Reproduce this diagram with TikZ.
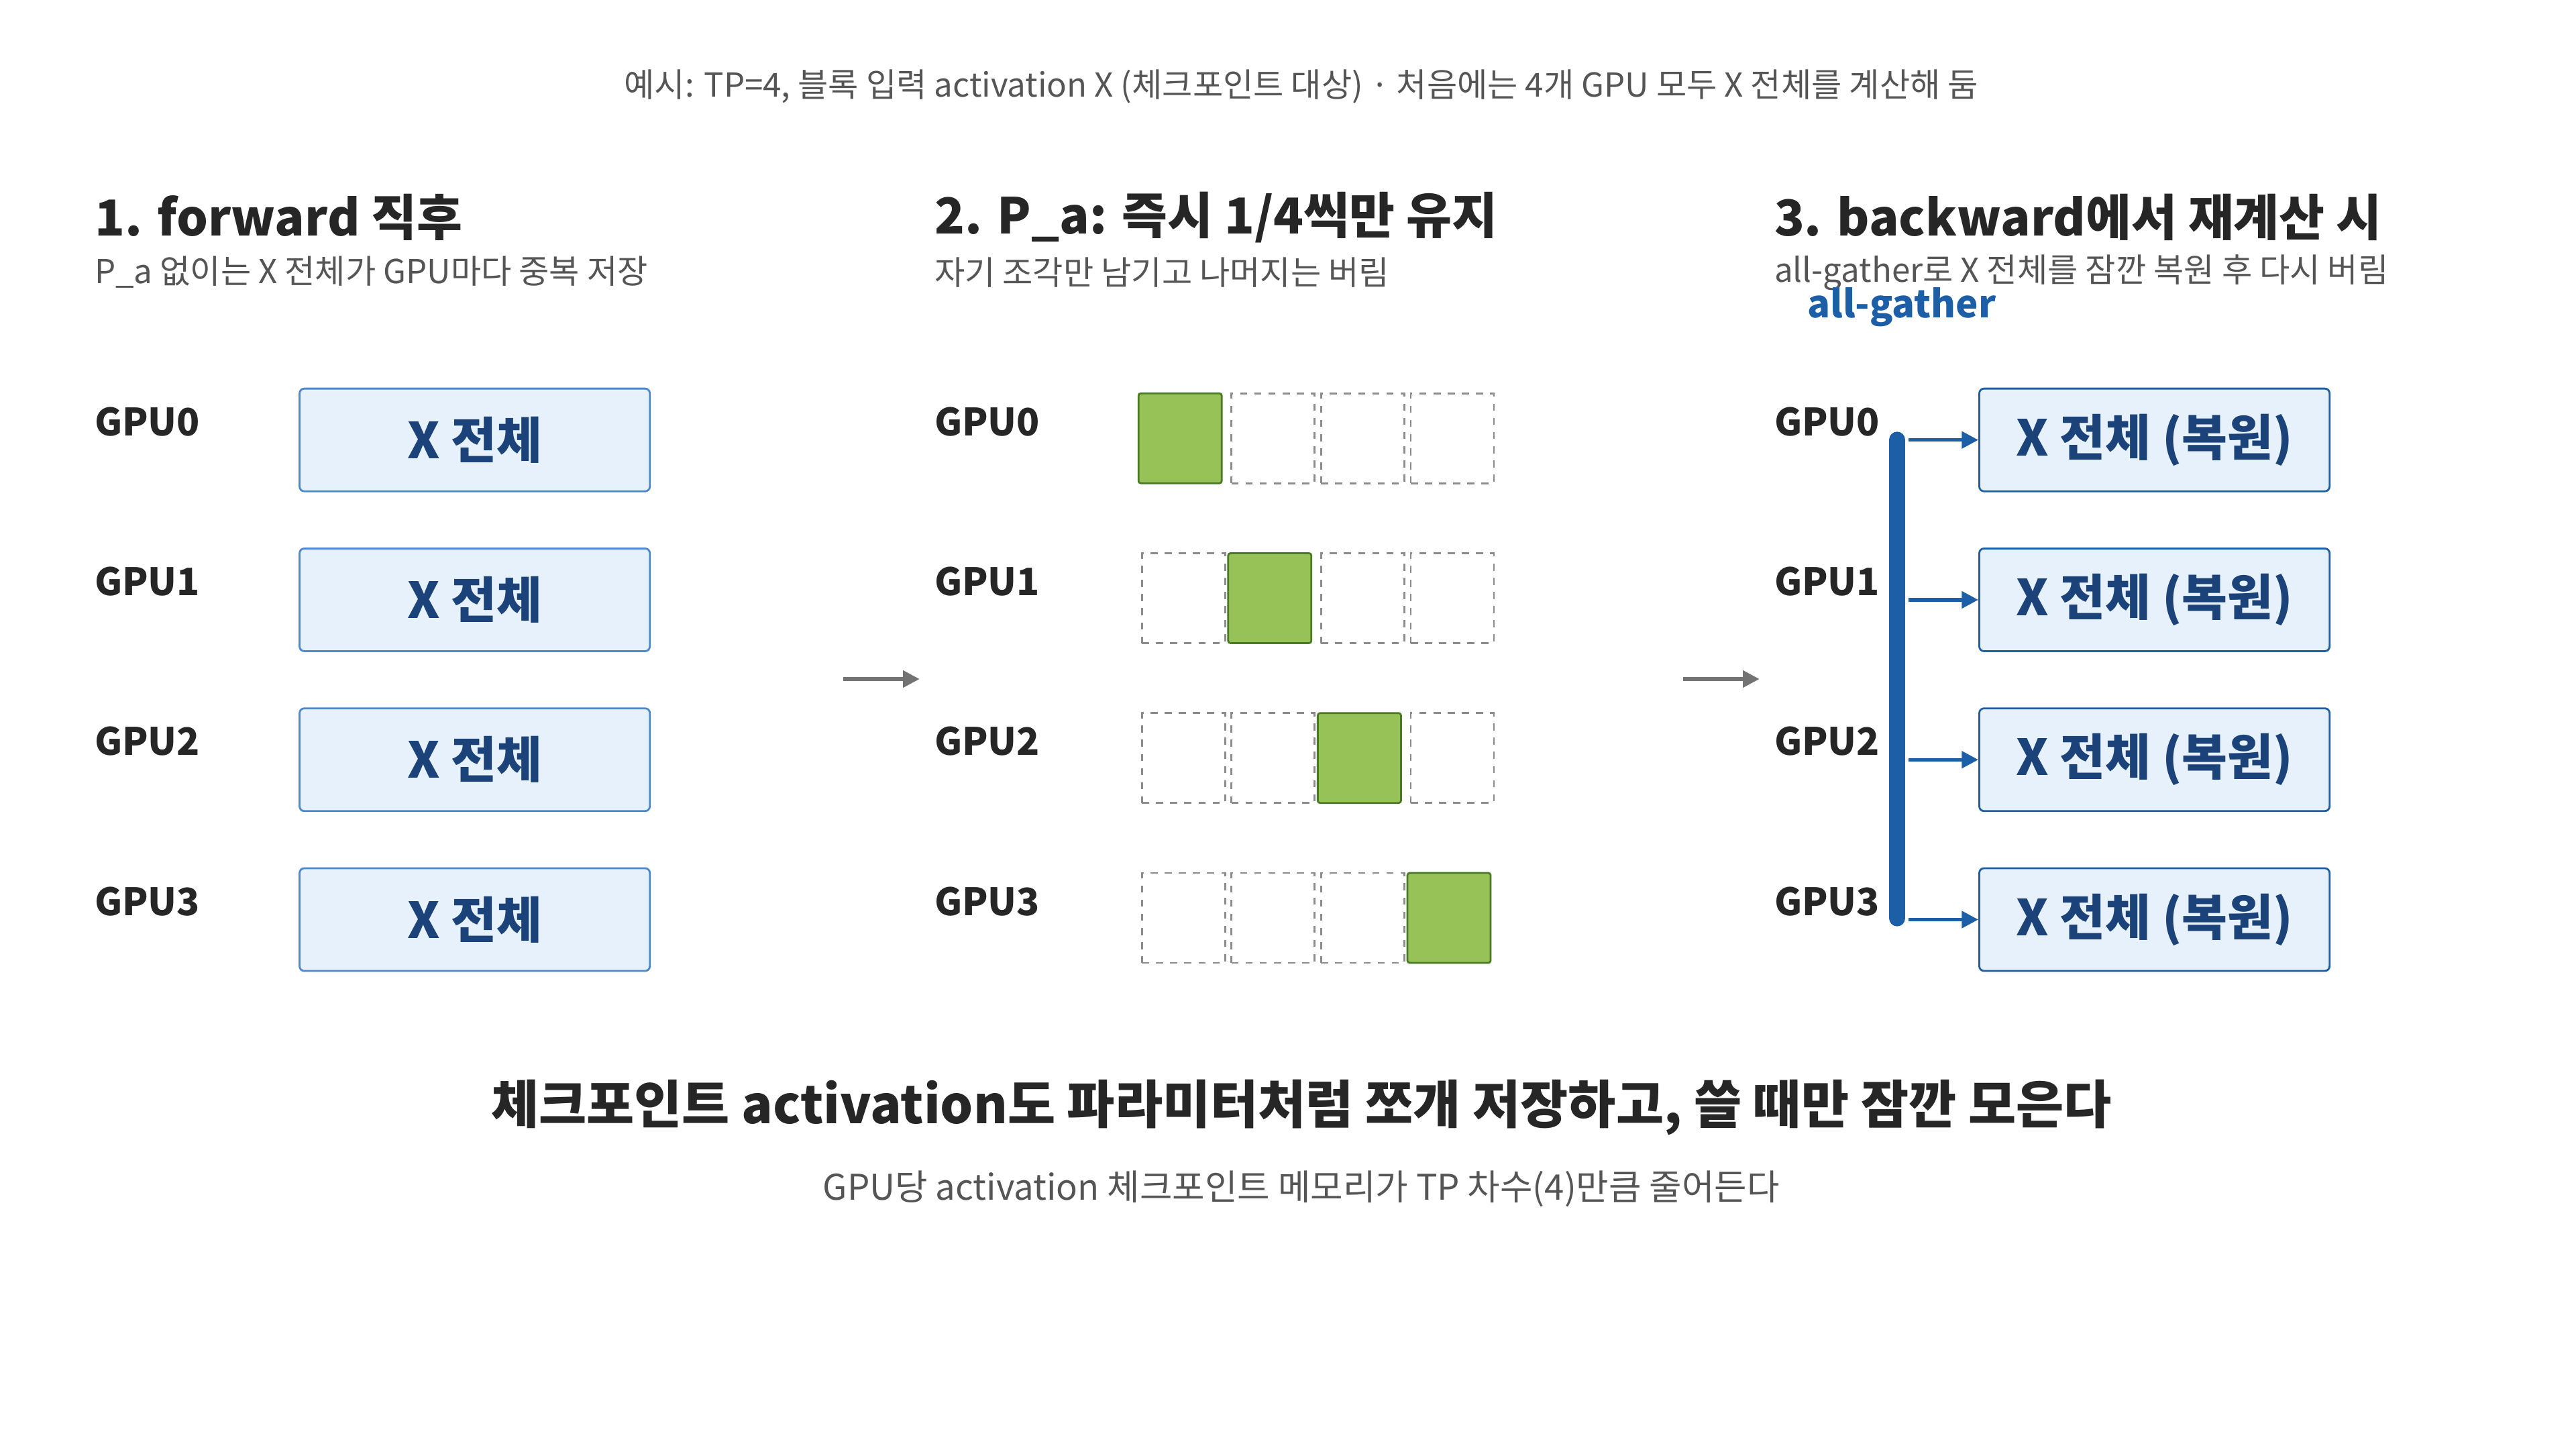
\documentclass[tikz,border=0pt]{standalone}
\usepackage{fontspec}
\setmainfont{Noto Sans CJK KR}
\usetikzlibrary{arrows.meta}
\definecolor{boxfill}{HTML}{E7F1FC}
\definecolor{boxline}{HTML}{4A88CF}
\definecolor{boxtext}{HTML}{1B4379}
\definecolor{gathblue}{HTML}{1D5FA6}
\definecolor{shard}{HTML}{97C257}
\definecolor{shardline}{HTML}{4B7A25}
\definecolor{subgray}{HTML}{555555}
\tikzset{
    title/.style={anchor=west, font=\fontsize{21}{25}\selectfont\bfseries, text=black!85},
    sub/.style={anchor=west, font=\fontsize{14}{17}\selectfont, text=subgray},
    gpu/.style={anchor=west, font=\fontsize{16}{19}\selectfont\bfseries, text=black!85},
    full/.style={draw=boxline, fill=boxfill, rounded corners=2pt, line width=0.8pt,
        minimum width=5.22cm, minimum height=1.53cm, font=\fontsize{21}{25}\selectfont\bfseries, text=boxtext},
    piece/.style={draw=shardline, fill=shard, rounded corners=1pt, line width=0.8pt,
        minimum width=1.24cm, minimum height=1.34cm},
    empty/.style={draw=black!45, dashed, line width=0.8pt, minimum width=1.24cm, minimum height=1.34cm},
    stage arrow/.style={-{Triangle[length=7pt,width=7pt]}, draw=black!55, line width=1.5pt},
}
\begin{document}
\begin{tikzpicture}[x=0.02474cm, y=-0.02474cm]
    \useasboundingbox (0,0) rectangle (1552,873);

    \node[font=\fontsize{14}{17}\selectfont, text=subgray] (cap) at (784,52) {예시: TP=4, 블록 입력 activation X (체크포인트 대상) · 처음에는 4개 GPU 모두 X 전체를 계산해 둠};

    % panel 1
    \node[title] (t1) at (52,131) {1. forward 직후};
    \node[sub] (s1) at (52,164) {P\_a 없이는 X 전체가 GPU마다 중복 저장};
    % panel 2
    \node[title] (t2) at (558,131) {2. P\_a: 즉시 1/4씩만 유지};
    \node[sub] (s2) at (558,164) {자기 조각만 남기고 나머지는 버림};
    % panel 3
    \node[title] (t3) at (1064,131) {3. backward에서 재계산 시};
    \node[sub] (s3) at (1064,164) {all-gather로 X 전체를 잠깐 복원 후 다시 버림};
    \node[anchor=west, font=\fontsize{16}{19}\selectfont\bfseries, text=gathblue] (ag) at (1084,185) {all-gather};

    \foreach \i in {0,...,3} {
        \pgfmathsetmacro{\yy}{254+96.3*\i}
        \node[gpu] (ga\i) at (52,\yy) {GPU\i};
        \node[full] (xa\i) at (286,\yy+11) {X 전체};
        \node[gpu] (gb\i) at (558,\yy) {GPU\i};
        \foreach \j in {0,...,3} {
            \ifnum\i=\j
                \node[piece] (p\i\j) at (711+54*\j,\yy+10) {};
            \else
                \node[empty] (p\i\j) at (713+54*\j,\yy+10) {};
            \fi
        }
        \node[gpu] (gc\i) at (1064,\yy) {GPU\i};
        \node[full, draw=gathblue] (xc\i) at (1298,\yy+11) {X 전체 (복원)};
        \coordinate (tap\i) at (1150,\yy+11);
        \draw[-{Triangle[length=7pt,width=7pt]}, draw=gathblue, line width=1.5pt] (tap\i) -- (xc\i.west);
    }
    \coordinate (bartop) at (1143,265);
    \coordinate (barbot) at (1143,553);
    \draw[gathblue, line width=7pt, line cap=round] (bartop) -- (barbot);

    \coordinate (a1s) at (508,409);
    \coordinate (a1e) at (554,409);
    \coordinate (a2s) at (1014,409);
    \coordinate (a2e) at (1060,409);
    \draw[stage arrow] (a1s) -- (a1e);
    \draw[stage arrow] (a2s) -- (a2e);

    \node[font=\fontsize{22}{26}\selectfont\bfseries, text=black!85] (head) at (784,667) {체크포인트 activation도 파라미터처럼 쪼개 저장하고, 쓸 때만 잠깐 모은다};
    \node[font=\fontsize{15}{18}\selectfont, text=subgray] (foot) at (784,716) {GPU당 activation 체크포인트 메모리가 TP 차수(4)만큼 줄어든다};
\end{tikzpicture}
\end{document}
